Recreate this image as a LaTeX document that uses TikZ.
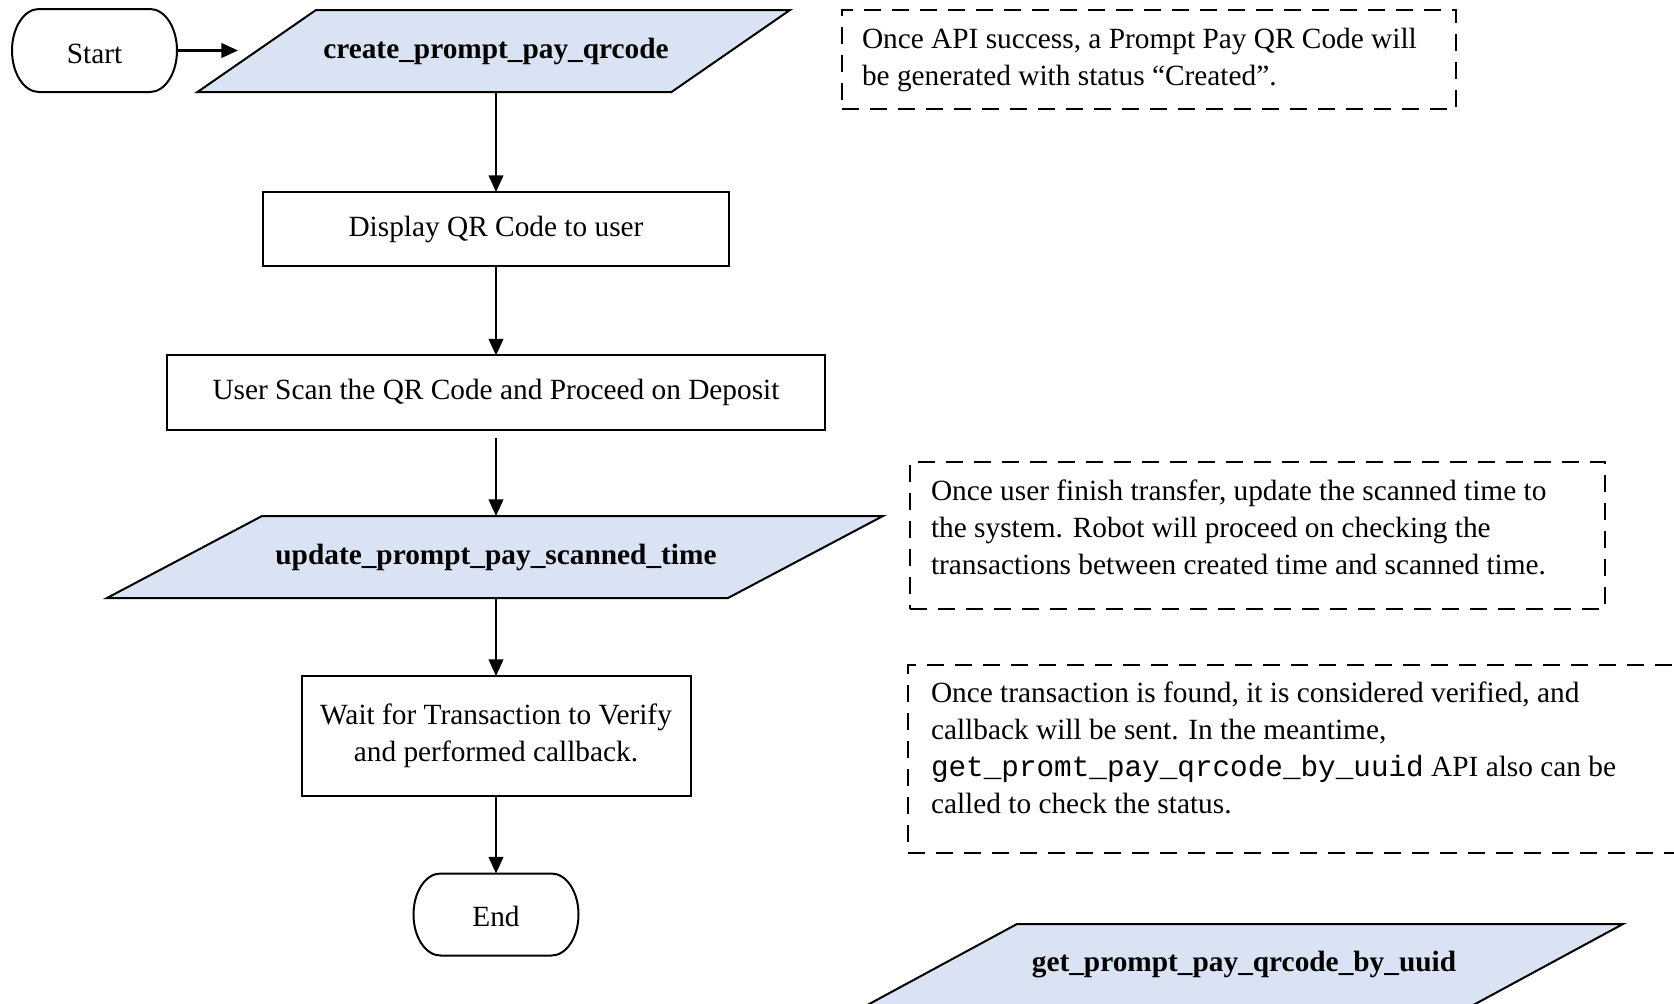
\documentclass[tikz,border=0pt]{standalone}
\usepackage{fontspec}
\setmainfont{Liberation Serif}
\setmonofont{Liberation Mono}
\usetikzlibrary{arrows.meta}
\definecolor{parafill}{HTML}{DAE3F3}
\begin{document}
\begin{tikzpicture}[x=0.75pt, y=-0.75pt,
  font=\fontsize{22}{27.75}\selectfont,
  shapeline/.style={draw=black, line width=1.5pt},
  textonly/.style={inner sep=0pt, outer sep=0pt},
  procbox/.style={draw=black, line width=1.5pt, inner sep=0pt, outer sep=0pt, align=center},
  paratext/.style={font=\fontsize{22}{27.75}\selectfont\bfseries, inner sep=0pt, outer sep=0pt, minimum height=61.5pt},
  notebox/.style={draw=black, line width=1.5pt, dash pattern=on 12.75pt off 8.25pt, inner sep=0pt, outer sep=0pt},
  notetext/.style={inner sep=0pt, outer sep=0pt, align=left},
  flow/.style={-{Triangle[length=12.5pt,width=11pt]}, line width=1.6pt}
]
\clip (0,0) rectangle (1674,1003);
\fill[white] (0,0) rectangle (1674,1003);

% Start terminal
\node[textonly, minimum width=123.75pt, minimum height=62.25pt] (start) at (94.5,50.5) {\raisebox{-2.25pt}[\height][\depth]{Start}};
\draw[shapeline] ([xshift=20.25pt]start.north west) -- ([xshift=-20.25pt]start.north east)
  arc[start angle=90, end angle=-90, x radius=20.25pt, y radius=31.125pt]
  -- ([xshift=20.25pt]start.south west)
  arc[start angle=270, end angle=90, x radius=20.25pt, y radius=31.125pt] -- cycle;

% create_prompt_pay_qrcode
\draw[shapeline, fill=parafill] (197.5,92) -- (316,10) -- (790,10) -- (671.5,92) -- cycle;
\node[paratext, minimum width=387pt] (p1) at (496,51) {create\_prompt\_pay\_qrcode};

% process boxes
\node[procbox, minimum width=349.5pt, minimum height=55.5pt] (disp) at (496,229) {Display QR Code to user};
\node[procbox, minimum width=493.1pt, minimum height=55.9pt] (scan) at (496,392.75) {User Scan the QR Code and Proceed on Deposit};

% update_prompt_pay_scanned_time
\draw[shapeline, fill=parafill] (107,598) -- (262,516) -- (883,516) -- (728,598) -- cycle;
\node[paratext] (p2) at (496,557) {update\_prompt\_pay\_scanned\_time};

\node[procbox, minimum width=291.75pt, minimum height=90pt] (wait) at (496,736) {Wait for Transaction to Verify\\and performed callback.};

% End terminal
\node[textonly, minimum width=123.75pt, minimum height=61.5pt] (end) at (496,914.5) {\raisebox{-1.5pt}[\height][\depth]{End}};
\draw[shapeline] ([xshift=20.25pt]end.north west) -- ([xshift=-20.25pt]end.north east)
  arc[start angle=90, end angle=-90, x radius=20.25pt, y radius=30.75pt]
  -- ([xshift=20.25pt]end.south west)
  arc[start angle=270, end angle=90, x radius=20.25pt, y radius=30.75pt] -- cycle;

% connectors
\draw[flow] (start.east) -- (start.east -| p1.west);
\draw[flow] (p1.south) -- (disp.north);
\draw[flow] (disp.south) -- (scan.north);
\draw[flow, shorten <=6pt] (scan.south) -- (p2.north);
\draw[flow] (p2.south) -- (wait.north);
\draw[flow] (wait.south) -- (end.north);

% notes
\node[notebox, minimum width=460.5pt, minimum height=74.25pt] (n1) at (1149,59.5) {};
\node[notetext, anchor=west] (n1t) at (862,60) {Once API success, a Prompt Pay QR Code will\\be generated with status “Created”.};

\node[notebox, minimum width=521.25pt, minimum height=110.25pt] (n2) at (1257.5,535.5) {};
\node[notetext, anchor=west] (n2t) at (931,527) {Once user finish transfer, update the scanned time to\\the system. Robot will proceed on checking the\\transactions between created time and scanned time.};

\node[notebox, minimum width=594pt, minimum height=141pt] (n3) at (1304,759) {};
\node[notetext, anchor=west] (n3t) at (931,748) {Once transaction is found, it is considered verified, and\\callback will be sent. In the meantime,\\{\ttfamily get\_promt\_pay\_qrcode\_by\_uuid} API also can be\\called to check the status.};

% get_prompt_pay_qrcode_by_uuid
\draw[shapeline, fill=parafill] (865.5,1006) -- (1017,924) -- (1623,924) -- (1471.5,1006) -- cycle;
\node[paratext] (p3) at (1244,965) {get\_prompt\_pay\_qrcode\_by\_uuid};
\end{tikzpicture}
\end{document}
